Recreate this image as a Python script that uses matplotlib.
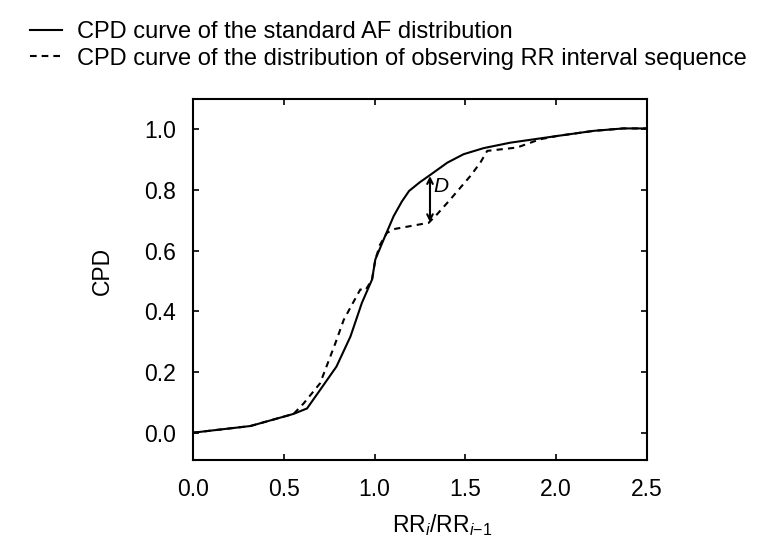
import matplotlib
matplotlib.use("Agg")
import matplotlib.pyplot as plt
from matplotlib.lines import Line2D

plt.rcParams['font.family'] = ['Liberation Sans', 'DejaVu Sans']
plt.rcParams['mathtext.fontset'] = 'custom'
plt.rcParams['mathtext.rm'] = 'Liberation Sans'
plt.rcParams['mathtext.it'] = 'Liberation Sans:italic'

# Standard AF distribution CPD curve
std_x = [0.0, 0.316, 0.554, 0.628, 0.70, 0.79, 0.867, 0.93, 0.986, 1.004, 1.05, 1.105,
         1.15, 1.19, 1.25, 1.307, 1.40, 1.49, 1.60, 1.747, 2.004, 2.206, 2.37, 2.5]
std_y = [0.0, 0.022, 0.062, 0.080, 0.141, 0.218, 0.317, 0.428, 0.505, 0.571, 0.637, 0.714,
         0.762, 0.797, 0.826, 0.850, 0.890, 0.918, 0.938, 0.956, 0.978, 0.995, 1.003, 1.003]

# Observed RR interval sequence CPD curve
obs_x = [0.0, 0.316, 0.554, 0.61, 0.70, 0.784, 0.83, 0.921, 0.95, 0.986, 1.004, 1.03,
         1.068, 1.114, 1.215, 1.298, 1.344, 1.417, 1.527, 1.582, 1.62, 1.784, 1.91,
         2.004, 2.206, 2.37, 2.5]
obs_y = [0.0, 0.022, 0.062, 0.097, 0.163, 0.295, 0.372, 0.472, 0.47, 0.505, 0.571, 0.62,
         0.659, 0.672, 0.683, 0.692, 0.72, 0.769, 0.846, 0.89, 0.929, 0.94, 0.967,
         0.978, 0.995, 1.003, 1.003]

# D statistic location
d_x = 1.305
d_top = 0.846
d_bot = 0.694
d_label_x = 1.366
d_label_y = 0.81

xticks = [0.0, 0.5, 1.0, 1.5, 2.0, 2.5]
yticks = [0.0, 0.2, 0.4, 0.6, 0.8, 1.0]

fig = plt.figure(figsize=(7.71, 5.54), dpi=100)
ax = fig.add_axes([193/771, 1-460/554, (647-193)/771, (460-99)/554])

ax.plot(std_x, std_y, color='black', lw=1.5, solid_joinstyle='round')
ax.plot(obs_x, obs_y, color='black', lw=1.5, linestyle=(0, (3, 2.5)))

ax.annotate('', xy=(d_x, d_bot), xytext=(d_x, d_top),
            arrowprops=dict(arrowstyle='<->', color='black', lw=1.5,
                            shrinkA=0, shrinkB=0, mutation_scale=10))
ax.text(d_label_x, d_label_y, 'D', fontsize=15, style='italic', ha='center', va='center')

ax.set_xlim(0, 2.5)
ax.set_ylim(-0.09, 1.1)
ax.set_xticks(xticks)
ax.set_yticks(yticks)
ax.set_xticklabels([f'{v:.1f}' for v in xticks])
ax.set_yticklabels([f'{v:.1f}' for v in yticks])
ax.tick_params(direction='in', length=4, width=1.2, top=True, right=True,
               labelsize=16.5)
ax.tick_params(axis='y', pad=12)
ax.tick_params(axis='x', pad=13)
for s in ax.spines.values():
    s.set_linewidth(1.5)

ax.set_ylabel('CPD', fontsize=16.5)
ax.yaxis.set_label_coords((102 - 193) / 454, 1 - (271 - 99) / 361)
ax.set_xlabel(r'RR$_{i}$/RR$_{i\mathrm{-1}}$', fontsize=16.5)
ax.xaxis.set_label_coords((442 - 193) / 454, -(525 - 460) / 361)
ax.xaxis.label.set_va('center')
ax.yaxis.label.set_va('center')

handles = [Line2D([], [], color='black', lw=1.5),
           Line2D([], [], color='black', lw=1.5, linestyle=(0, (3.2, 2.4)))]
labels = ['CPD curve of the standard AF distribution',
          'CPD curve of the distribution of observing RR interval sequence']
fig.legend(handles, labels, loc='upper left', bbox_to_anchor=(30/771, 1 - 21/554),
           frameon=False, fontsize=17, handlelength=1.36, handletextpad=0.63,
           labelspacing=0.2, borderaxespad=0, borderpad=0)

fig.savefig('out.png', dpi=100)
